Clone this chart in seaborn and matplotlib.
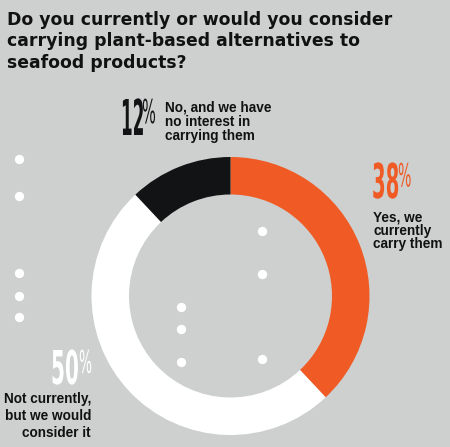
import numpy as np
import pandas as pd
import matplotlib
matplotlib.use("Agg")
import matplotlib.pyplot as plt
import seaborn as sns
from matplotlib.patheffects import AbstractPathEffect
from matplotlib.transforms import Affine2D

# ---------------- data ----------------
categories = ["Yes, we currently carry them",
              "Not currently, but we would consider it",
              "No, and we have no interest in carrying them"]
values = [38, 50, 12]
value_labels = ["38", "50", "12"]
label_lines = [["Yes, we", "currently", "carry them"],
               ["Not currently,", "but we would", "consider it"],
               ["No, and we have", "no interest in", "carrying them"]]
title_lines = ["Do you currently or would you consider",
               "carrying plant-based alternatives to",
               "seafood products?"]
# decorative dots (pixel positions)
dot_x = [19, 19, 19, 19, 19, 262, 262, 181, 181, 181, 262]
dot_y = [159, 196, 273, 296, 317, 231, 274, 307, 329, 362, 359]

# ---------------- style ----------------
W, H = 450, 447
BG = "#cdd0cf"
ORANGE = "#f05a24"
BLACK = "#121314"
WHITE = "#ffffff"
TXT = "#111111"
colors = [ORANGE, WHITE, BLACK]

sns.set_style("white", {"axes.facecolor": BG, "figure.facecolor": BG})
plt.rcParams["font.family"] = ["DejaVu Sans"]


class Stretch(AbstractPathEffect):
    """Vertically stretch glyphs from the baseline (emulates a condensed display face)."""
    def __init__(self, sy):
        super().__init__()
        self.sy = sy

    def draw_path(self, renderer, gc, tpath, affine, rgbFace=None):
        renderer.draw_path(gc, tpath, Affine2D().scale(1, self.sy) + affine, rgbFace)


fig = plt.figure(figsize=(W / 100, H / 100), dpi=100)
ax = fig.add_axes([0, 0, 1, 1])


def py(y):
    return H - y


# donut
cx, cy, R, ring = 230.5, 296, 139, 37.5
ax.pie(values, colors=colors, startangle=90, counterclock=False,
       center=(cx, py(cy)), radius=R,
       wedgeprops=dict(width=ring, linewidth=0))

# decorative dots
dots = pd.DataFrame({"x": dot_x, "y": [py(v) for v in dot_y]})
sns.scatterplot(data=dots, x="x", y="y", ax=ax, color=WHITE, s=45,
                linewidth=0, legend=False)

ax.set_xlim(0, W)
ax.set_ylim(0, H)
ax.set_aspect("auto")
ax.axis("off")

# title
for i, line in enumerate(title_lines):
    ax.text(7, py(25 + 21.5 * i), line, fontsize=12.4, fontweight="bold",
            color=TXT, ha="left", va="baseline", family="DejaVu Sans")

# big numbers: (x_left, baseline, digit top, squeeze, x of %, colour)
num_pos = [(372, 198, 163, 0.41, 398, ORANGE),
           (51, 384, 350, 0.43, 79, WHITE),
           (121, 135, 99, 0.34, 142, BLACK)]
for (x0, base, top, sx, xp, col), num in zip(num_pos, value_labels):
    dh = base - top
    em = dh / 0.729 * sx              # pixel em of the narrow layout
    ax.text(x0, py(base), num, fontsize=em * 0.72, fontweight="bold",
            color=col, ha="left", va="baseline", family="DejaVu Sans",
            path_effects=[Stretch(1 / sx)])
    ph = dh * 0.67
    psx = 0.44
    pem = ph / 0.729 * psx
    ax.text(xp, py(top + ph), "%", fontsize=pem * 0.72,
            fontweight="normal", color=col, ha="left", va="baseline",
            family="DejaVu Sans", path_effects=[Stretch(1 / psx)])

# labels: (x, first baseline, spacing, ha)
lab_pos = [(373, 221, 13.5, "left"), (91, 403, 17, "right"), (165, 111, 14.5, "left")]
for (x0, b0, sp, ha), lines in zip(lab_pos, label_lines):
    for j, ln in enumerate(lines):
        ax.text(x0, py(b0 + sp * j), ln, fontsize=9.8, fontweight="bold",
                color=TXT, ha=ha, va="baseline",
                family=["Liberation Sans", "DejaVu Sans"])

fig.savefig("out.png", dpi=100, facecolor=BG)
